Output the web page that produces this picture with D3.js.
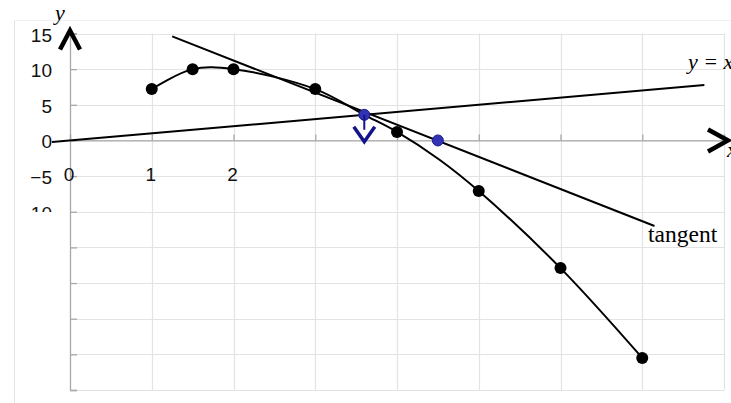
<!DOCTYPE html>
<html>
<head>
<meta charset="utf-8">
<script src="https://cdn.jsdelivr.net/npm/d3@7"></script>
<style>
  html, body { margin: 0; padding: 0; background: #fff; }
  svg { display: block; }
</style>
</head>
<body>
<svg id="chart" width="731" height="403"></svg>
<script>
// Sampled curve (x, y) and the points that carry markers
const curveX = [1, 1.5, 2, 3, 3.6, 4, 4.52, 5, 6, 7];
const curveY = [7.2, 10, 10, 7.2, 3.6, 1.2, -2.7, -7.1, -17.9, -30.5];
const markerX = [1, 1.5, 2, 3, 4, 5, 6, 7];
const markerY = [7.2, 10, 10, 7.2, 1.2, -7.1, -17.9, -30.5];

// Tangent line endpoints and the line y = x
const tangentX = [1.25, 7.15];
const tangentY = [14.6, -12.0];
const identityX = [-0.22, 7.76];

// Highlighted points: intersection with y = x, and the tangent's x-intercept
const pointX = [3.6, 4.5];
const pointY = [3.6, 0];

// Axis ticks and labels
const xTicks = [0, 1, 2, 3, 4, 5, 6, 7, 8];
const yTicks = [15, 10, 5, 0, -5, -10, -15, -20, -25, -30, -35];
const xTickLabels = [0, 1, 2];
const yTickLabels = [15, 10, 5, 0, -5, -10];

const svg = d3.select("#chart");
const x = d3.scaleLinear().domain([0, 8]).range([70, 724]);
const y = d3.scaleLinear().domain([-35, 15]).range([390, 33.5]);

// Outer chart frame (faint)
svg.append("line").attr("x1", 14.5).attr("x2", 14.5).attr("y1", 20).attr("y2", 403)
  .attr("stroke", "#e4e4e4").attr("stroke-width", 1);
svg.append("line").attr("x1", 14.5).attr("x2", 731).attr("y1", 20.5).attr("y2", 20.5)
  .attr("stroke", "#f0f0f0").attr("stroke-width", 1);

// Gridlines
const grid = svg.append("g");
grid.selectAll("line.h").data(yTicks).join("line")
  .attr("x1", x(0)).attr("x2", x(8))
  .attr("y1", d => Math.round(y(d)) + 0.5).attr("y2", d => Math.round(y(d)) + 0.5)
  .attr("stroke", "#e3e3e3").attr("stroke-width", 1.2);
grid.selectAll("line.v").data(xTicks.slice(1)).join("line")
  .attr("x1", d => Math.round(x(d)) + 0.5).attr("x2", d => Math.round(x(d)) + 0.5)
  .attr("y1", y(15)).attr("y2", y(-35))
  .attr("stroke", "#e3e3e3").attr("stroke-width", 1.2);

// Axes with inward ticks
const yAxis = svg.append("g").attr("transform", `translate(${x(0)},0)`)
  .call(d3.axisRight(y).tickValues(yTicks).tickSize(7).tickFormat(""));
const xAxis = svg.append("g").attr("transform", `translate(0,${y(0)})`)
  .call(d3.axisTop(x).tickValues(xTicks).tickSize(6).tickFormat(""));
[yAxis, xAxis].forEach(a => {
  a.selectAll("path").attr("stroke", "#a8a8a8").attr("stroke-width", 1.3);
  a.selectAll("line").attr("stroke", "#a8a8a8").attr("stroke-width", 1.3);
});

// Tick labels
const fmt = d => d < 0 ? "\u2212" + Math.abs(d) : String(d);
svg.append("clipPath").attr("id", "ylabClip")
  .append("rect").attr("x", 0).attr("y", 0).attr("width", 68).attr("height", 212);
svg.append("g").attr("clip-path", "url(#ylabClip)")
  .selectAll("text").data(yTickLabels).join("text")
  .attr("x", 52).attr("y", d => y(d) + 8)
  .attr("text-anchor", "end")
  .attr("font-family", "Liberation Sans, Arial, sans-serif")
  .attr("font-size", 19).attr("fill", "#111")
  .text(fmt);
svg.append("g").selectAll("text").data(xTickLabels).join("text")
  .attr("x", d => x(d) - 1).attr("y", 181)
  .attr("text-anchor", "middle")
  .attr("font-family", "Liberation Sans, Arial, sans-serif")
  .attr("font-size", 19).attr("fill", "#111")
  .text(fmt);

// y = x line
svg.append("line")
  .attr("x1", x(identityX[0])).attr("y1", y(identityX[0]))
  .attr("x2", x(identityX[1])).attr("y2", y(identityX[1]))
  .attr("stroke", "#000").attr("stroke-width", 2);

// Tangent line
svg.append("line")
  .attr("x1", x(tangentX[0])).attr("y1", y(tangentY[0]))
  .attr("x2", x(tangentX[1])).attr("y2", y(tangentY[1]))
  .attr("stroke", "#000").attr("stroke-width", 2);

// Curve
const curvePts = curveX.map((d, i) => [d, curveY[i]]);
svg.append("path").datum(curvePts)
  .attr("d", d3.line().x(d => x(d[0])).y(d => y(d[1])).curve(d3.curveCatmullRom.alpha(0.5)))
  .attr("fill", "none").attr("stroke", "#000").attr("stroke-width", 2);

svg.append("g").selectAll("circle").data(markerX.map((d, i) => [d, markerY[i]])).join("circle")
  .attr("cx", d => x(d[0])).attr("cy", d => y(d[1])).attr("r", 6)
  .attr("fill", "#000");

// Highlighted points
svg.append("g").selectAll("circle").data(pointX.map((d, i) => [d, pointY[i]])).join("circle")
  .attr("cx", d => x(d[0])).attr("cy", d => y(d[1])).attr("r", 5.5)
  .attr("fill", "#3232b4").attr("stroke", "#1c1c8a").attr("stroke-width", 1);

// Downward arrow from the intersection point
const ax = x(pointX[0]), ay = y(pointY[0]);
svg.append("line").attr("x1", ax).attr("x2", ax).attr("y1", ay).attr("y2", ay + 15)
  .attr("stroke", "#14148a").attr("stroke-width", 2);
svg.append("path")
  .attr("d", `M${ax - 10.5},${ay + 12} L${ax},${ay + 27} L${ax + 10.5},${ay + 12}`)
  .attr("fill", "none").attr("stroke", "#14148a").attr("stroke-width", 3.5);

// Axis arrowheads
const ox = x(0), oy = y(0);
svg.append("path")
  .attr("d", `M${ox - 10},${y(15) + 16} L${ox},${y(15) - 3} L${ox + 10},${y(15) + 16}`)
  .attr("fill", "none").attr("stroke", "#000").attr("stroke-width", 4.5);
svg.append("path")
  .attr("d", `M${x(8) - 16},${oy - 11} L${x(8) + 4},${oy} L${x(8) - 16},${oy + 11}`)
  .attr("fill", "none").attr("stroke", "#000").attr("stroke-width", 4.5);

// Annotations
const serif = "Liberation Serif, Times New Roman, serif";
svg.append("text").attr("x", 55).attr("y", 20)
  .attr("font-family", serif).attr("font-style", "italic").attr("font-size", 22)
  .text("y");
svg.append("text").attr("x", 727).attr("y", 157)
  .attr("font-family", serif).attr("font-style", "italic").attr("font-size", 22)
  .text("x");
svg.append("text").attr("x", 688).attr("y", 69)
  .attr("font-family", serif).attr("font-style", "italic").attr("font-size", 22)
  .text("y = x");
svg.append("text").attr("x", 648).attr("y", 242)
  .attr("font-family", serif).attr("font-size", 23.5)
  .text("tangent");
</script>
</body>
</html>
